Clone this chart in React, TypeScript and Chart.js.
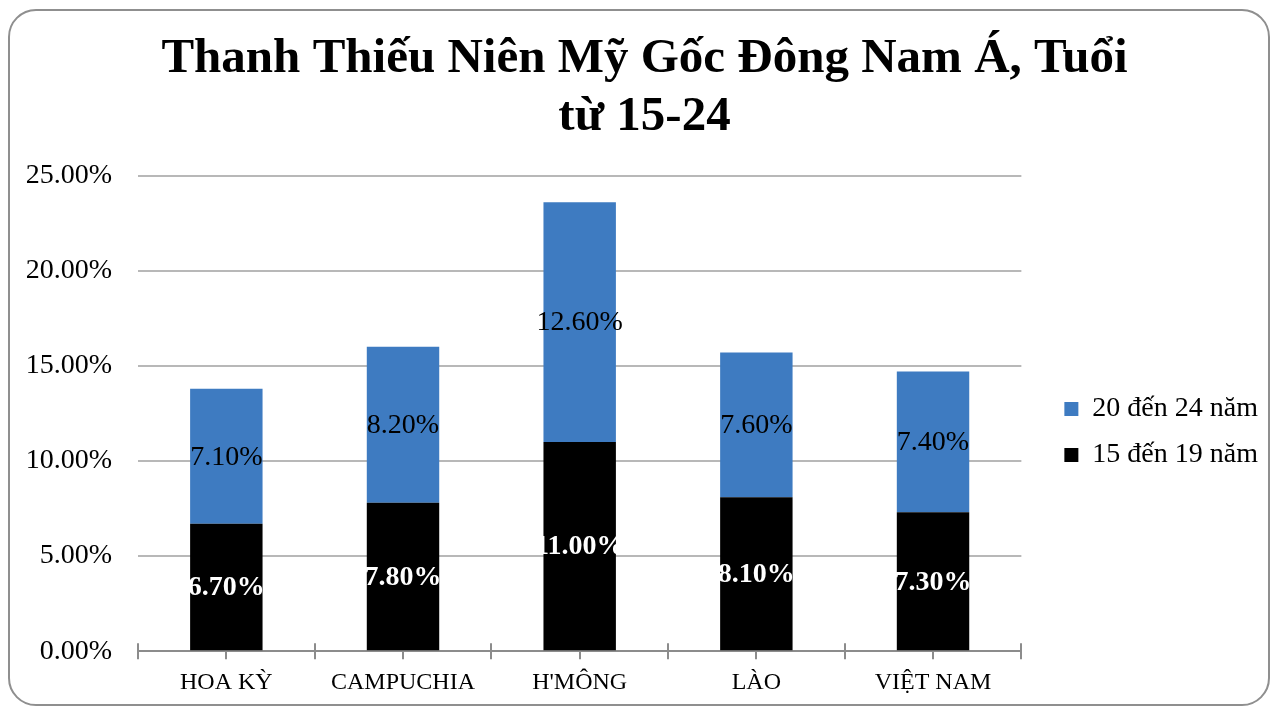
import React, { useEffect, useRef } from 'react';
import { Chart, registerables } from 'chart.js';

Chart.register(...registerables);

const categories = ['HOA KỲ', 'CAMPUCHIA', "H'MÔNG", 'LÀO', 'VIỆT NAM'];
const age15to19 = [6.7, 7.8, 11.0, 8.1, 7.3];
const age20to24 = [7.1, 8.2, 12.6, 7.6, 7.4];
const seriesNames = ['15 đến 19 năm', '20 đến 24 năm'];
const seriesColors = ['#000000', '#3E7BC1'];
const titleLines = ['Thanh Thiếu Niên Mỹ Gốc Đông Nam Á, Tuổi', 'từ 15-24'];
const yMin = 0;
const yMax = 25;
const yStep = 5;

const SERIF = "'Liberation Serif', 'DejaVu Serif', serif";

const fmt = (v: number) => v.toFixed(2) + '%';

const xTickPlugin = {
  id: 'xTickMarks',
  beforeDatasetsDraw(chart: any) {
    const xs = chart.scales.x;
    const y0 = chart.chartArea.bottom;
    const ctx = chart.ctx;
    ctx.save();
    ctx.strokeStyle = '#8c8c8c';
    ctx.lineWidth = 2;
    ctx.beginPath();
    for (let i = 0; i <= categories.length; i++) {
      const px = Math.round(xs.getPixelForValue(i - 0.5));
      ctx.moveTo(px, y0 - 8);
      ctx.lineTo(px, y0 + 8);
    }
    for (let i = 0; i < categories.length; i++) {
      const px = Math.round(xs.getPixelForValue(i));
      ctx.moveTo(px, y0 - 8);
      ctx.lineTo(px, y0 + 8);
    }
    ctx.stroke();
    ctx.restore();
  },
};

const dataLabelPlugin = {
  id: 'dataLabels',
  afterDatasetsDraw(chart: any) {
    const ctx = chart.ctx;
    ctx.save();
    ctx.textAlign = 'center';
    ctx.textBaseline = 'middle';
    chart.data.datasets.forEach((ds: any, di: number) => {
      const meta = chart.getDatasetMeta(di);
      ctx.font = di === 0 ? `bold 28px ${SERIF}` : `28px ${SERIF}`;
      ctx.fillStyle = di === 0 ? '#ffffff' : '#000000';
      meta.data.forEach((el: any, i: number) => {
        const { x, y, base } = el.getProps(['x', 'y', 'base'], true);
        ctx.fillText(fmt(ds.data[i]), x, (y + base) / 2 + 1);
      });
    });
    ctx.restore();
  },
};

const boxShiftPlugin = {
  id: 'boxShift',
  afterLayout(chart: any) {
    const l = chart.legend;
    if (l) {
      const dx = 25;
      const dy = 70;
      l.left += dx;
      l.right += dx;
      l.top += dy;
      l.bottom += dy;
    }
    const t = chart.titleBlock;
    if (t) {
      t.left += 15;
      t.right += 15;
    }
  },
};

export default function App() {
  const canvasRef = useRef<HTMLCanvasElement | null>(null);

  useEffect(() => {
    if (!canvasRef.current) return;
    const chart = new Chart(canvasRef.current, {
      type: 'bar',
      data: {
        labels: categories,
        datasets: [
          {
            label: seriesNames[0],
            data: age15to19,
            backgroundColor: seriesColors[0],
            borderWidth: 0,
            barPercentage: 0.41,
            categoryPercentage: 1,
          },
          {
            label: seriesNames[1],
            data: age20to24,
            backgroundColor: seriesColors[1],
            borderWidth: 0,
            barPercentage: 0.41,
            categoryPercentage: 1,
          },
        ],
      },
      options: {
        animation: false,
        responsive: true,
        maintainAspectRatio: false,
        layout: { padding: { left: 16, right: 30, top: 10, bottom: -7 } },
        plugins: {
          title: {
            display: true,
            text: titleLines,
            color: '#000000',
            font: { family: SERIF, size: 49, weight: 'bold', lineHeight: 1.17 },
            padding: { top: 21, bottom: 30 },
          },
          legend: {
            display: true,
            position: 'right',
            reverse: true,
            labels: {
              color: '#000000',
              font: { family: SERIF, size: 28 },
              boxWidth: 14,
              boxHeight: 14,
              padding: 18,
            },
          },
          tooltip: { enabled: false },
        },
        scales: {
          x: {
            stacked: true,
            offset: true,
            grid: { display: false, drawTicks: false, offset: true },
            border: { display: true, color: '#8c8c8c', width: 2 },
            ticks: {
              color: '#000000',
              font: { family: SERIF, size: 24 },
              padding: 17,
              maxRotation: 0,
              autoSkip: false,
            },
          },
          y: {
            stacked: true,
            min: yMin,
            max: yMax,
            grid: { color: '#b8b8b8', lineWidth: 2, drawTicks: false },
            border: { display: false },
            ticks: {
              stepSize: yStep,
              color: '#000000',
              font: { family: SERIF, size: 28 },
              padding: 26,
              callback: (v: any) => fmt(Number(v)),
            },
            afterFit: (scale: any) => {
              scale.width = 122;
            },
          },
        },
      },
      plugins: [xTickPlugin, dataLabelPlugin, boxShiftPlugin],
    });
    return () => chart.destroy();
  }, []);

  return (
    <>
      <div
        style={{
          position: 'fixed',
          left: 8,
          top: 9,
          width: 1262,
          height: 697,
          border: '2px solid #8f8f8f',
          borderRadius: 28,
          boxSizing: 'border-box',
          background: '#ffffff',
        }}
      />
      <div style={{ position: 'fixed', left: 0, top: 0, width: 1273, height: 707 }}>
        <canvas ref={canvasRef} />
      </div>
    </>
  );
}
